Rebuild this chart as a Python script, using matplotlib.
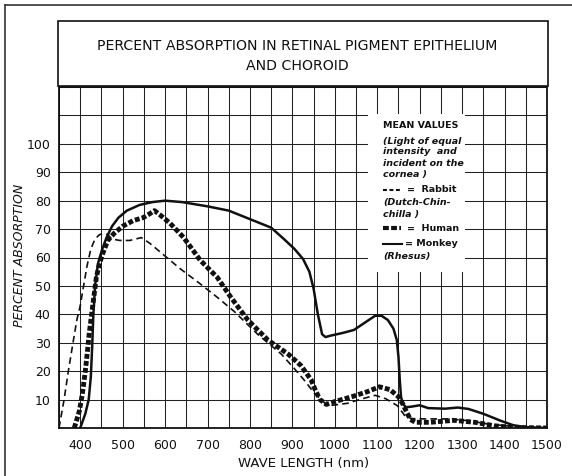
import matplotlib
matplotlib.use("Agg")
import matplotlib.pyplot as plt
from matplotlib.patches import Rectangle
from matplotlib.lines import Line2D

# ---------------- data ----------------
monkey_nm = [400, 412, 420, 425, 428, 431, 435, 442, 452, 462, 475, 490, 510, 540, 570, 600, 640,
             700, 750, 800, 850, 880, 905, 925, 940, 950, 960, 970, 978, 990, 1020, 1045, 1075,
             1095, 1110, 1125, 1138, 1146, 1150, 1153, 1156, 1160, 1168, 1180, 1200, 1220, 1260,
             1290, 1315, 1350, 1390, 1420, 1450, 1500]
monkey_val = [0, 5, 10, 18, 28, 40, 50, 58, 63, 67, 71, 74, 76.5, 78.5, 79.5, 80, 79.5,
              78, 76.5, 73.5, 70.5, 66.5, 63, 59.5, 55, 49, 40, 33, 32, 32.5, 33.5, 34.5, 37.5,
              39.5, 39.5, 38, 35, 31, 25, 17, 11, 8.5, 7.3, 7.5, 8, 7, 6.8,
              7.2, 6.7, 5, 2.6, 1, 0.3, 0]

human_nm = [386, 398, 405, 412, 417, 421, 426, 432, 438, 444, 452, 465, 480, 500, 525, 548, 565,
            575, 588, 612, 644, 683, 723, 755, 795, 842, 890, 920, 944, 955, 965, 980, 1000,
            1040, 1077, 1105, 1130, 1150, 1160, 1168, 1178, 1190, 1225, 1280, 1330, 1375, 1420, 1500]
human_val = [0, 6, 12, 20, 27, 33, 39, 46, 53, 57, 61, 66, 68.5, 71, 73, 74, 75.5,
             76.5, 75, 72, 67, 59, 53, 46, 38, 31, 26, 22, 17, 13, 10, 8.3, 9.3,
             11, 12.8, 14.5, 13.5, 11, 8.5, 6, 3, 2, 2, 2.7, 2, 0.8, 0.2, 0]

rabbit_nm = [350, 362, 372, 383, 392, 400, 408, 416, 425, 435, 445, 455, 465, 475, 493, 517, 544,
             564, 596, 636, 683, 723, 763, 818, 874, 904, 927, 952, 977, 995, 1030, 1065, 1095,
             1120, 1148, 1164, 1180, 1210, 1265, 1313, 1360, 1423, 1500]
rabbit_val = [0, 10, 20, 30, 38, 43, 50, 57, 63, 66.5, 68, 68.5, 68, 66.5, 66, 66, 67,
              65, 61, 56, 50.7, 46, 41, 33, 26, 21, 17, 12.2, 8.7, 8, 8.7, 10.3, 11.5,
              10.3, 7.8, 4.5, 3.3, 3.2, 3.2, 2.6, 1.4, 0.5, 0]

x_ticks = [400, 500, 600, 700, 800, 900, 1000, 1100, 1200, 1300, 1400, 1500]
y_ticks = [10, 20, 30, 40, 50, 60, 70, 80, 90, 100]

title_text = "PERCENT ABSORPTION IN RETINAL PIGMENT EPITHELIUM\nAND CHOROID"
x_label = "WAVE LENGTH (nm)"
y_label = "PERCENT ABSORPTION"

# ---------------- figure ----------------
W, H = 572, 476
fig = plt.figure(figsize=(W / 100, H / 100), dpi=100)
fig.patch.set_facecolor("white")


def fx(px):
    return px / W


def fy(py):
    return 1 - py / H


ax_l, ax_r, ax_t, ax_b = 59, 547, 87, 428
ax = fig.add_axes([fx(ax_l), fy(ax_b), fx(ax_r - ax_l), (ax_b - ax_t) / H])
ax.set_xlim(350, 1500)
ax.set_ylim(0, 120)

# grid
for gx in range(350, 1501, 50):
    ax.axvline(gx, color="#222222", lw=0.75, zorder=1)
for gy in range(0, 121, 10):
    ax.axhline(gy, color="#222222", lw=0.75, zorder=1)

for s in ax.spines.values():
    s.set_linewidth(1.3)
    s.set_color("#111111")

ax.set_xticks(x_ticks)
ax.set_yticks(y_ticks)
ax.tick_params(axis="y", length=0, labelsize=9, pad=6)
ax.tick_params(axis="x", length=0, labelsize=9, pad=8)
ax.set_xticklabels([str(v) for v in x_ticks])
ax.set_yticklabels([str(v) for v in y_ticks])
for lab in ax.get_xticklabels() + ax.get_yticklabels():
    lab.set_color("#111111")

# legend white box (covers grid)
ax.add_patch(Rectangle((1078, 55), 229, 55.5, facecolor="white", edgecolor="none", zorder=2))

# curves
ax.plot(rabbit_nm, rabbit_val, color="#111111", lw=1.2, linestyle=(0, (4, 2.5)), zorder=3)
ax.plot(human_nm, human_val, color="#111111", lw=3.5, linestyle=(0, (1.0, 0.45)),
        dash_capstyle="butt", zorder=3)
ax.plot(monkey_nm, monkey_val, color="#111111", lw=1.8, zorder=4)

# axis labels
fig.text(fx(304), fy(463), x_label, ha="center", va="center", fontsize=9.5, color="#111111")
fig.text(fx(20), fy(255), y_label, ha="center", va="center", fontsize=9, rotation=90,
         style="italic", color="#111111")

# title box
fig.patches.append(Rectangle((fx(58), fy(86)), (548 - 58) / W, (86 - 21) / H,
                             transform=fig.transFigure, fill=False, lw=1.2,
                             edgecolor="#111111"))
fig.text(fx(297), fy(56), title_text, ha="center", va="center", fontsize=10.2,
         linespacing=1.55, color="#111111")

# outer frame (left and top)
fig.lines.append(Line2D([fx(5), fx(5)], [fy(5), fy(476)], transform=fig.transFigure,
                        color="#333333", lw=1.2))
fig.lines.append(Line2D([fx(5), fx(572)], [fy(5), fy(5)], transform=fig.transFigure,
                        color="#333333", lw=1.2))

# legend text
lx = 383
fs = 6.8
fig.text(fx(lx), fy(125), "MEAN VALUES", ha="left", va="center", fontsize=fs,
         fontweight="bold", color="#111111")
for yy, t in [(141, "(Light of equal"), (152, "intensity  and"),
              (163, "incident on the"), (174, "cornea )")]:
    fig.text(fx(lx), fy(yy), t, ha="left", va="center", fontsize=fs, style="italic",
             fontweight="bold", color="#111111")
# samples
fig.lines.append(Line2D([fx(383), fx(400)], [fy(190), fy(190)], transform=fig.transFigure,
                        color="#111111", lw=1.5, linestyle=(0, (1.9, 1.2)),
                        dash_capstyle="butt"))
fig.text(fx(407), fy(190), "=  Rabbit", ha="left", va="center", fontsize=fs,
         fontweight="bold", color="#111111")
fig.text(fx(lx), fy(203), "(Dutch-Chin-", ha="left", va="center", fontsize=fs,
         style="italic", fontweight="bold", color="#111111")
fig.text(fx(lx), fy(214), "chilla )", ha="left", va="center", fontsize=fs,
         style="italic", fontweight="bold", color="#111111")
fig.lines.append(Line2D([fx(383), fx(401)], [fy(228), fy(228)], transform=fig.transFigure,
                        color="#111111", lw=3.0, linestyle=(0, (1.4, 0.55)),
                        dash_capstyle="butt"))
fig.text(fx(407), fy(228), "=  Human", ha="left", va="center", fontsize=fs,
         fontweight="bold", color="#111111")
fig.lines.append(Line2D([fx(383), fx(402)], [fy(244), fy(244)], transform=fig.transFigure,
                        color="#111111", lw=1.5))
fig.text(fx(405), fy(244), "= Monkey", ha="left", va="center", fontsize=fs,
         fontweight="bold", color="#111111")
fig.text(fx(lx), fy(256), "(Rhesus)", ha="left", va="center", fontsize=fs,
         style="italic", fontweight="bold", color="#111111")

fig.savefig("out.png", dpi=100, facecolor="white")
